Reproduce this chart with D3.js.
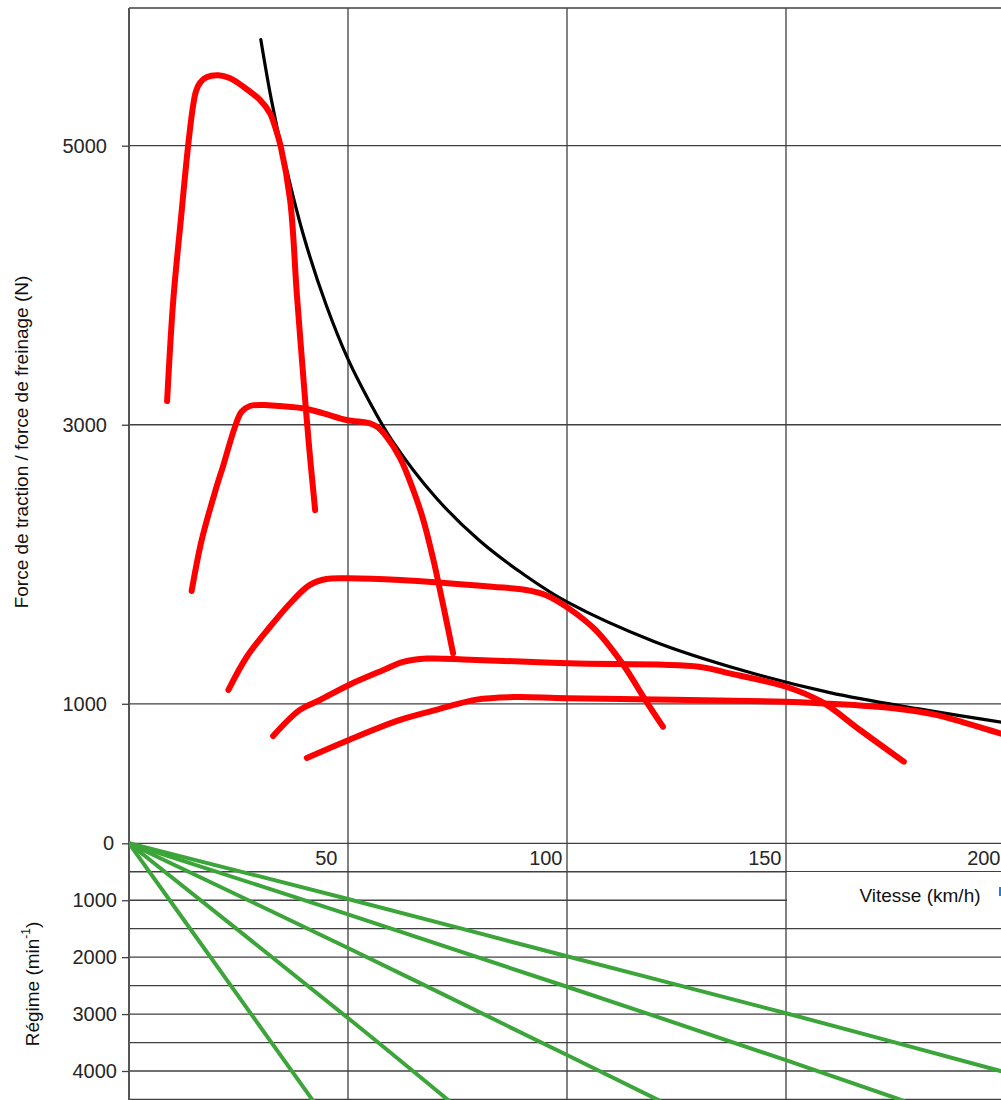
<!DOCTYPE html>
<html>
<head>
<meta charset="utf-8">
<script src="https://cdn.jsdelivr.net/npm/d3@7"></script>
<style>
  body { margin: 0; background: #fff; }
  svg { display: block; font-family: "Liberation Sans", Arial, sans-serif; }
</style>
</head>
<body>
<svg id="chart" width="1001" height="1100"></svg>
<script>
// ---- Data ----
const speedTicks = [50, 100, 150, 200];           // km/h
const forceTicks = [1000, 3000, 5000];            // N
const rpmTicks = [0, 1000, 2000, 3000, 4000];     // min-1
const rpmGrid = [500, 1000, 1500, 2000, 2500, 3000, 3500, 4000, 4500];

// traction hyperbola (black), [km/h, N]
const tractionLimit = [
  [30.1, 5760], [32.5, 5330], [35, 4960], [40, 4340], [45, 3860], [50, 3470],
  [55, 3160], [60, 2890], [70, 2480], [80, 2170], [90, 1930], [100, 1730],
  [120, 1445], [140, 1240], [160, 1080], [180, 965], [200, 865], [206, 840]
];

// gear curves (red), [km/h, N]
const gear1 = [
  [8.7, 3170], [10.1, 3890], [11.9, 4490], [13.5, 5000], [14.6, 5280], [15.3, 5390],
  [16.2, 5450], [17.7, 5490], [20.4, 5505], [23.1, 5483], [26.1, 5423], [29.9, 5328],
  [32.2, 5232], [33.6, 5110], [34.6, 5000], [36.8, 4606], [38.3, 3944], [39.4, 3499],
  [40.4, 3105], [41.4, 2746], [42.5, 2388]
];
const gear2 = [
  [14.3, 1808], [16.6, 2174], [20.0, 2556], [21.5, 2706], [24.2, 2986], [25.7, 3093],
  [27.6, 3134], [30.7, 3142], [34.5, 3134], [39.8, 3118], [44.4, 3082], [49.7, 3034],
  [55.0, 3010], [56.6, 2986], [58.8, 2914], [61.9, 2760], [64.9, 2532], [67.2, 2317],
  [69.5, 2031], [71.8, 1696], [74.0, 1362]
];
const gear3 = [
  [22.7, 1099], [26.9, 1337], [32.2, 1552], [37.5, 1744], [41.3, 1852], [45.1, 1894],
  [50.2, 1899], [61.9, 1887], [82.9, 1839], [90.7, 1816], [95.1, 1780], [100.4, 1684],
  [106.5, 1529], [112.6, 1290], [117.9, 1027], [121.9, 836]
];
const gear4 = [
  [32.9, 769], [39.0, 956], [43.6, 1027], [50.2, 1135], [58.1, 1242], [62.6, 1300],
  [68.0, 1324], [77.9, 1316], [100.4, 1290], [130.1, 1266], [137.1, 1218], [150.0, 1122],
  [158.1, 1015], [166.9, 812], [176.9, 585]
];
const gear5 = [
  [40.6, 612], [50.2, 741], [61.9, 884], [70.6, 960], [79.3, 1030], [88.1, 1048],
  [100.1, 1039], [150.0, 1015], [158.0, 1003], [174.6, 968], [184.2, 920], [198.9, 788],
  [203, 755]
];
const gears = [gear1, gear2, gear3, gear4, gear5];

// engine speed per gear (green), [km/h, min-1]
const rpmLines = [
  [[0, 0], [50, 978], [100, 1985], [150, 2985], [200, 4020]],
  [[0, 0], [50, 1250], [100, 2520], [150, 3810], [175.3, 4482], [177, 4530]],
  [[0, 0], [50, 1840], [100, 3720], [121.1, 4520]],
  [[0, 0], [50, 3070], [73, 4520]],
  [[0, 0], [20, 2150], [42, 4520]]
];

// ---- Layout ----
const W = 1001, H = 1100;
const plotLeft = 129, plotTop = 8;
const gridColor = '#404040';

const svg = d3.select('#chart');

const x = d3.scaleLinear().domain([0, 200]).range([plotLeft, 1005]);
const yF = d3.scaleLinear().domain([0, 5000]).range([843.3, 145.7]);
const yR = d3.scaleLinear().domain([0, 4000]).range([843.3, 1071]);

svg.append('defs').append('clipPath').attr('id', 'plot-clip')
  .append('rect').attr('x', plotLeft).attr('y', plotTop)
  .attr('width', W - plotLeft).attr('height', H - plotTop);

// ---- Grid ----
const grid = svg.append('g').attr('stroke', gridColor).attr('stroke-width', 1.3);

grid.selectAll('.vgrid')
  .data(speedTicks.filter(d => x(d) < W))
  .join('line')
  .attr('class', 'vgrid')
  .attr('x1', d => x(d)).attr('x2', d => x(d))
  .attr('y1', plotTop).attr('y2', H);

grid.selectAll('.fgrid')
  .data([0, ...forceTicks])
  .join('line')
  .attr('class', 'fgrid')
  .attr('x1', plotLeft).attr('x2', W)
  .attr('y1', d => yF(d)).attr('y2', d => yF(d));

grid.selectAll('.rgrid')
  .data(rpmGrid)
  .join('line')
  .attr('class', 'rgrid')
  .attr('x1', plotLeft).attr('x2', W)
  .attr('y1', d => yR(d)).attr('y2', d => yR(d));

// top frame and left border
grid.append('line').attr('x1', plotLeft).attr('x2', W).attr('y1', plotTop).attr('y2', plotTop);
svg.append('line')
  .attr('x1', plotLeft).attr('x2', plotLeft).attr('y1', plotTop).attr('y2', H)
  .attr('stroke', '#555').attr('stroke-width', 2);

// ---- Axes ----
function styleAxis(g) {
  g.select('.domain').remove();
  g.attr('font-family', null).attr('font-size', 20);
  g.selectAll('.tick line').attr('stroke', gridColor).attr('stroke-width', 1.3);
  g.selectAll('.tick text').attr('fill', '#262626');
}

svg.append('g')
  .attr('transform', `translate(${plotLeft},0)`)
  .call(d3.axisLeft(yF).tickValues(forceTicks).tickSize(7).tickPadding(15).tickFormat(d3.format('d')))
  .call(styleAxis);

svg.append('g')
  .attr('transform', `translate(${plotLeft},0)`)
  .call(d3.axisLeft(yR).tickValues(rpmTicks).tickSize(7).tickPadding(5).tickFormat(d3.format('d')))
  .call(styleAxis)
  .call(g => g.selectAll('.tick text').attr('dx', d => d === 0 ? -3 : 0));

svg.append('g')
  .attr('transform', `translate(0,${yF(0)})`)
  .call(d3.axisBottom(x).tickValues(speedTicks).tickSize(0).tickPadding(8))
  .call(styleAxis)
  .call(g => g.selectAll('.tick text')
    .attr('text-anchor', 'end')
    .attr('dx', d => d === 50 ? -11 : -5));

// speed label box
svg.append('rect')
  .attr('x', 787).attr('y', 872).attr('width', W - 787).attr('height', 46)
  .attr('fill', '#fff');
svg.append('text')
  .attr('x', 920).attr('y', 902)
  .attr('text-anchor', 'middle')
  .attr('font-size', 19).attr('fill', '#111')
  .text('Vitesse (km/h)');
svg.append('rect')
  .attr('x', 999).attr('y', 887).attr('width', 2).attr('height', 9)
  .attr('fill', '#1e7fd6');

// axis titles
svg.append('text')
  .attr('transform', 'translate(27.5,442) rotate(-90)')
  .attr('text-anchor', 'middle')
  .attr('font-size', 19).attr('fill', '#111')
  .text('Force de traction / force de freinage (N)');

const rpmTitle = svg.append('text')
  .attr('transform', 'translate(39,984) rotate(-90)')
  .attr('text-anchor', 'middle')
  .attr('font-size', 19).attr('fill', '#111');
rpmTitle.append('tspan').text('Régime (min');
rpmTitle.append('tspan').attr('font-size', 12).attr('dy', '-0.75em').text('-1');
rpmTitle.append('tspan').attr('dy', '0.47em').text(')');

// ---- Curves ----
const plot = svg.append('g').attr('clip-path', 'url(#plot-clip)');

const forceLine = d3.line()
  .x(d => x(d[0])).y(d => yF(d[1]))
  .curve(d3.curveCatmullRom.alpha(0.5));

const rpmLine = d3.line()
  .x(d => x(d[0])).y(d => yR(d[1]))
  .curve(d3.curveCatmullRom.alpha(0.5));

plot.selectAll('.rpm')
  .data(rpmLines)
  .join('path')
  .attr('class', 'rpm')
  .attr('d', rpmLine)
  .attr('fill', 'none')
  .attr('stroke', '#3ca53a')
  .attr('stroke-width', 4)
  .attr('stroke-linecap', 'round');

plot.append('path')
  .datum(tractionLimit)
  .attr('d', forceLine)
  .attr('fill', 'none')
  .attr('stroke', '#000')
  .attr('stroke-width', 3.2)
  .attr('stroke-linecap', 'round');

plot.selectAll('.gear')
  .data(gears)
  .join('path')
  .attr('class', 'gear')
  .attr('d', forceLine)
  .attr('fill', 'none')
  .attr('stroke', '#ff0000')
  .attr('stroke-width', 6)
  .attr('stroke-linecap', 'round')
  .attr('stroke-linejoin', 'round');
</script>
</body>
</html>
